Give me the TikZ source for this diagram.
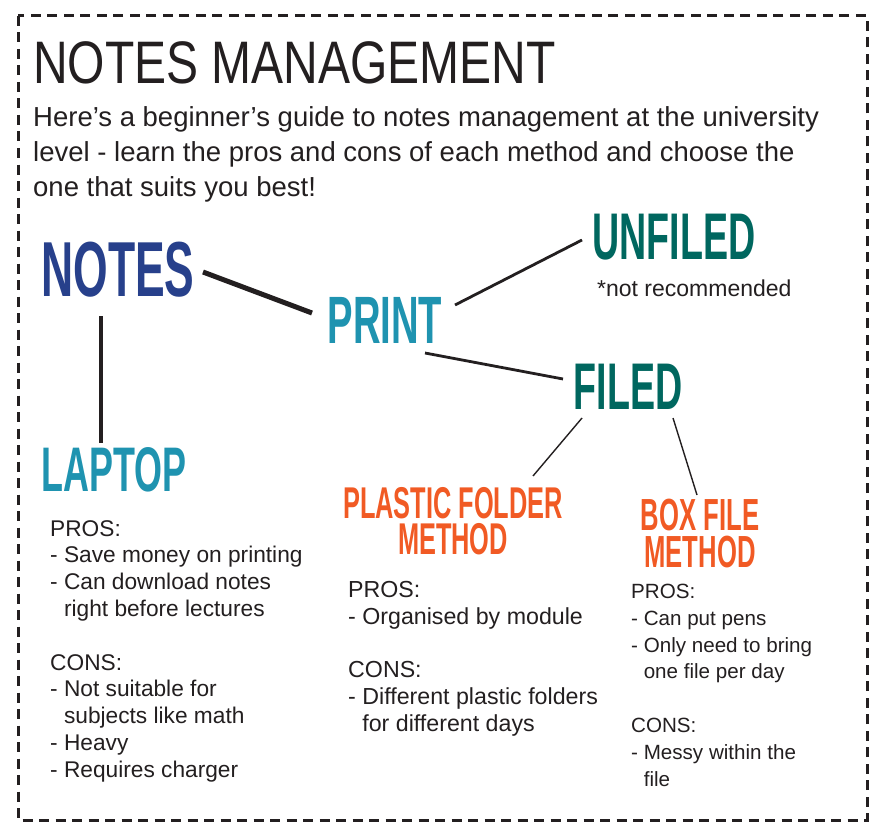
\documentclass[tikz,border=0pt]{standalone}
\usepackage{fontspec}
\setmainfont{Liberation Sans}
\newfontfamily\headfont[FakeStretch=0.57]{Liberation Sans}
\newfontfamily\titlefont[FakeStretch=0.8]{Liberation Sans}
\usetikzlibrary{calc}
\definecolor{txt}{HTML}{231F20}
\definecolor{navy}{HTML}{27408B}
\definecolor{teal}{HTML}{1F93B0}
\definecolor{dteal}{HTML}{00675F}
\definecolor{orng}{HTML}{F15A24}
\begin{document}
\begin{tikzpicture}[x=1pt,y=-1pt,
  heading/.style={inner sep=0pt, align=center},
  body/.style={inner sep=0pt, anchor=north west, align=left, text=txt},
  link/.style={draw=txt, line cap=butt}]
\useasboundingbox (0,0) rectangle (874,829);
\fill[white] (0,0) rectangle (874,829);
\draw[txt, line width=3pt, dash pattern=on 10pt off 6.5pt] (18,16) rectangle (867,820);

% title and intro
\node[inner sep=0pt, anchor=base west, text=txt, font=\titlefont\fontsize{60}{60}\selectfont] (title) at (33,84) {NOTES MANAGEMENT};
\node[inner sep=0pt, anchor=north west, align=left, text=txt, font=\fontsize{27.5}{35}\selectfont] (intro) at (33,106)
  {Here’s a beginner’s guide to notes management at the university\\
   level - learn the pros and cons of each method and choose the\\
   one that suits you best!};

% headings
\node[heading, text=navy, font=\headfont\bfseries\fontsize{78}{78}\selectfont] (notes) at (118,270) {NOTES};
\node[heading, text=teal, font=\headfont\bfseries\fontsize{67}{67}\selectfont] (print) at (385,320) {PRINT};
\node[heading, text=dteal, font=\headfont\bfseries\fontsize{66}{66}\selectfont] (unfiled) at (674,237) {UNFILED};
\node[inner sep=0pt, anchor=west, text=txt, font=\fontsize{23}{26}\selectfont] (notrec) at (597,288) {*not recommended};
\node[heading, text=dteal, font=\headfont\bfseries\fontsize{66}{66}\selectfont] (filed) at (628,387) {FILED};
\node[heading, text=teal, font=\headfont\bfseries\fontsize{63}{63}\selectfont] (laptop) at (114,470) {LAPTOP};
\node[heading, text=orng, font=\headfont\bfseries\fontsize{44.5}{36}\selectfont] (plastic) at (453,521) {PLASTIC FOLDER\\METHOD};
\node[heading, text=orng, font=\headfont\bfseries\fontsize{45}{37}\selectfont] (box) at (700,534) {BOX FILE\\METHOD};

% connectors
\draw[link, line width=5pt] ($(notes.center)+(85,2)$) -- ($(print.center)+(-73,-7)$);
\draw[link, line width=4.5pt] ($(notes.center)+(-17,46)$) -- ($(laptop.center)+(-13,-27)$);
\draw[link, line width=2.8pt] ($(print.center)+(70,-15)$) -- ($(unfiled.center)+(-92,3)$);
\draw[link, line width=2.8pt] ($(print.center)+(40,33)$) -- ($(filed.center)+(-65,-8)$);
\draw[link, line width=1.4pt] ($(filed.center)+(-46,31)$) -- ($(plastic.center)+(80,-45)$);
\draw[link, line width=1.4pt] ($(filed.center)+(45,31)$) -- ($(box.center)+(-3,-39)$);

% details
\node[body, font=\fontsize{22.7}{26.8}\selectfont] (laptoptext) at (50,520) {PROS:\\
- Save money on printing\\
- Can download notes\\
\phantom{- }right before lectures\\[26.8pt]
CONS:\\
- Not suitable for\\
\phantom{- }subjects like math\\
- Heavy\\
- Requires charger};
\node[body, font=\fontsize{23.2}{26.8}\selectfont] (plastictext) at (348,581) {PROS:\\
- Organised by module\\[26.8pt]
CONS:\\
- Different plastic folders\\
\phantom{- }for different days};
\node[body, font=\fontsize{20.6}{26.8}\selectfont] (boxtext) at (631,584) {PROS:\\
- Can put pens\\
- Only need to bring\\
\phantom{- }one file per day\\[26.8pt]
CONS:\\
- Messy within the\\
\phantom{- }file};
\end{tikzpicture}
\end{document}
